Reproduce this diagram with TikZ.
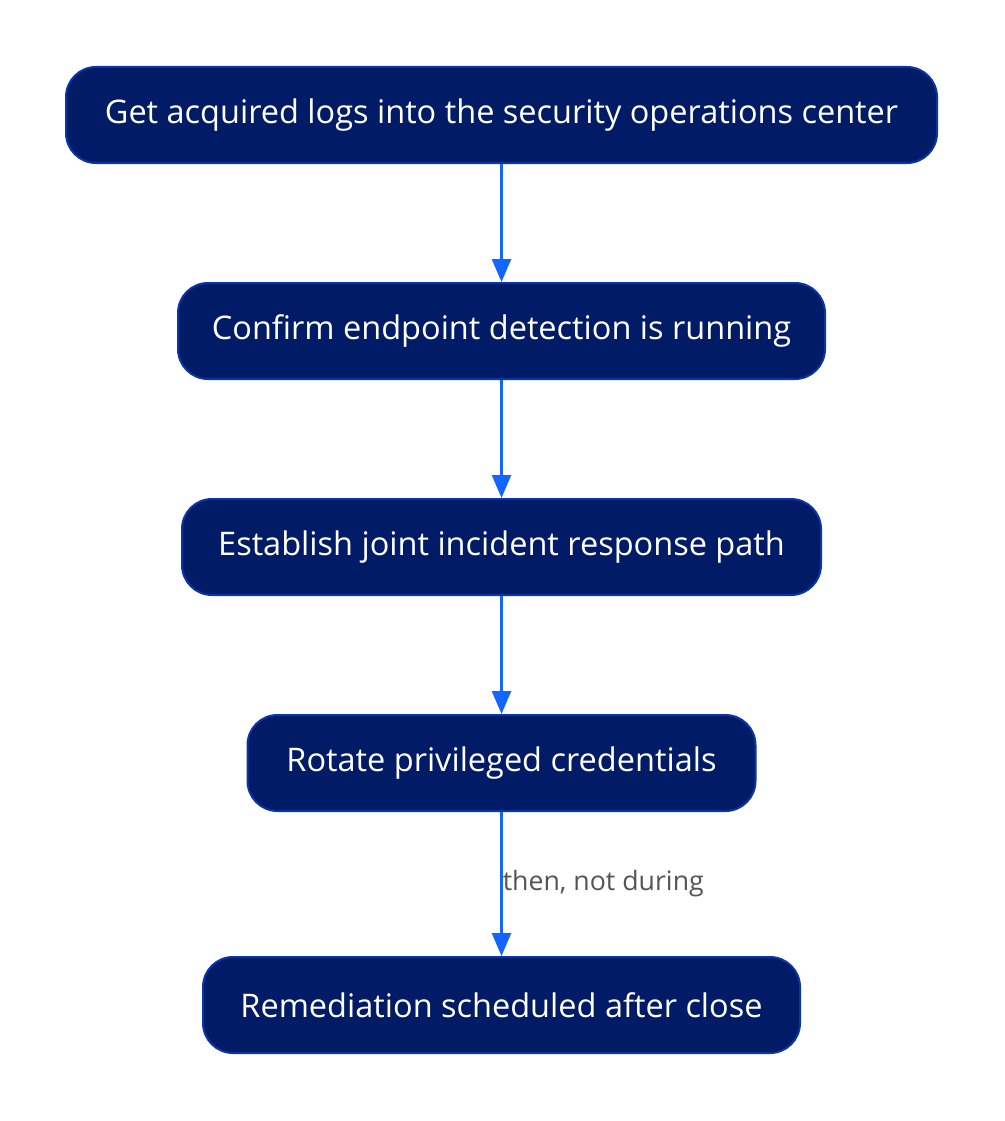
\documentclass[tikz,border=0pt]{standalone}
\usepackage{fontspec}
\setmainfont{Open Sans}
\usetikzlibrary{arrows.meta}
\definecolor{boxfill}{HTML}{021B67}
\definecolor{boxline}{HTML}{0A35A8}
\definecolor{arrowc}{HTML}{1464FF}
\definecolor{labelc}{HTML}{555555}
\begin{document}
\begin{tikzpicture}[x=1pt,y=-1pt,
  stepbox/.style={draw=boxline, line width=2pt, fill=boxfill, rounded corners=30pt,
    text=white, font=\fontsize{32.5}{38}\selectfont, inner sep=0pt, anchor=center},
  flow/.style={draw=arrowc, line width=2.6pt, -{Triangle[length=23pt,width=19pt]}},
  lbl/.style={text=labelc, font=\fontsize{26.7}{31}\selectfont, inner sep=0pt}]
\useasboundingbox (0,0) rectangle (1004,1121);
\node[stepbox, minimum width=871pt, minimum height=96pt] (n1) at (501.5,115) {Get acquired logs into the security operations center};
\node[stepbox, minimum width=647pt, minimum height=96pt] (n2) at (501.5,331) {Confirm endpoint detection is running};
\node[stepbox, minimum width=639pt, minimum height=96pt] (n3) at (501.5,547) {Establish joint incident response path};
\node[stepbox, minimum width=508pt, minimum height=96pt] (n4) at (501.5,763) {Rotate privileged credentials};
\node[stepbox, minimum width=597pt, minimum height=96pt] (n5) at (501.5,1005) {Remediation scheduled after close};
\draw[flow] (n1.south) -- (n2.north);
\draw[flow] (n2.south) -- (n3.north);
\draw[flow] (n3.south) -- (n4.north);
\draw[flow] (n4.south) -- (n5.north) node[lbl, pos=0.5, anchor=west] (l1) {then, not during};
\end{tikzpicture}
\end{document}
